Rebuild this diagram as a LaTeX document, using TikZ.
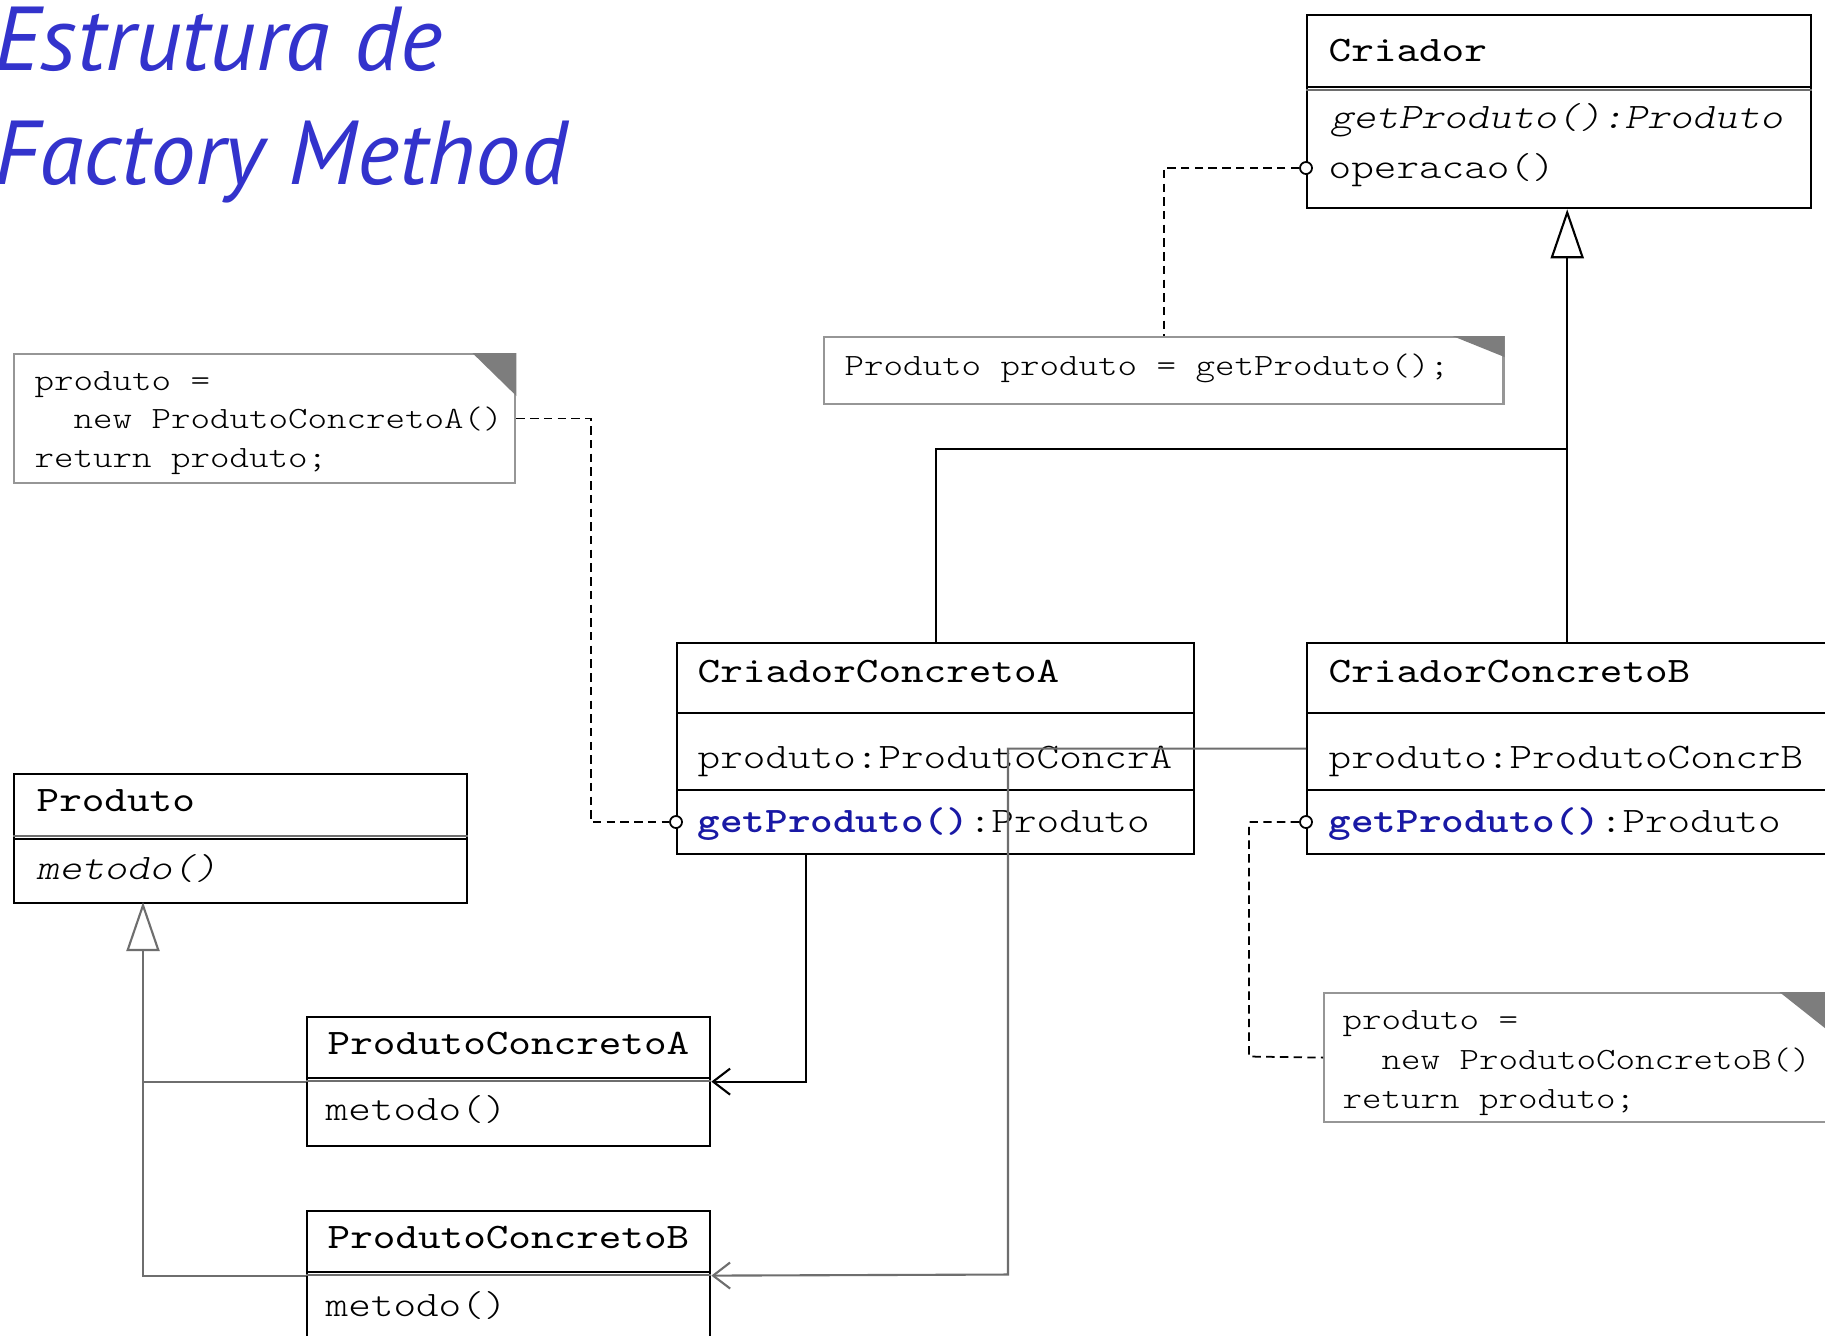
\documentclass[tikz,border=0pt]{standalone}
\usepackage{fontspec}
\usetikzlibrary{arrows.meta}

\newfontfamily\titlefont{PT Sans}
\newfontfamily\codefont{lmmonolt10}[Extension=.otf, UprightFont=*-regular,
  BoldFont=lmmono10-regular, ItalicFont=*-oblique, FakeStretch=1.2]
\newfontfamily\opfont{lmmonolt10}[Extension=.otf, UprightFont=*-bold, FakeStretch=1.2]
\newcommand\clsfont{\codefont\fontsize{10.2}{13}\selectfont}
\newcommand\notefont{\codefont\fontsize{8.8}{11}\selectfont}
\newcommand\op[1]{\textcolor{opblue}{\opfont\fontsize{10.2}{13}\selectfont #1}}

\definecolor{titleblue}{RGB}{51,51,204}
\definecolor{opblue}{RGB}{25,25,165}
\definecolor{notegray}{RGB}{150,150,150}
\definecolor{eargray}{RGB}{125,125,125}
\definecolor{linegray}{RGB}{110,110,110}

\begin{document}
\begin{tikzpicture}[x=0.01cm, y=-0.01cm,
  cls/.style={draw, line width=0.6pt, fill=white, inner sep=0pt, anchor=north west},
  note/.style={draw=notegray, line width=0.6pt, fill=white, inner sep=0pt, anchor=north west},
  txt/.style={anchor=base west, inner sep=0pt, font=\clsfont},
  ntxt/.style={anchor=base west, inner sep=0pt, font=\notefont},
  port/.style={circle, draw, fill=white, line width=0.5pt, inner sep=0pt, minimum size=0.12cm},
  sep/.style={line width=0.6pt},
  gen/.style={-{Triangle[open, length=0.49cm, width=0.33cm]}, line width=0.6pt},
  assoc/.style={-{Straight Barb[length=0.17cm, width=0.26cm]}, line width=0.6pt},
  link/.style={dash pattern=on 2.4pt off 1.5pt, line width=0.5pt}
]
  \path[use as bounding box, fill=white] (0,0) rectangle (1825,1335);

  % title
  \node[anchor=base west, inner sep=0pt, text=titleblue,
        font=\titlefont\itshape\fontsize{25.8}{32}\selectfont] (title1) at (-6,70) {Estrutura de};
  \node[anchor=base west, inner sep=0pt, text=titleblue,
        font=\titlefont\itshape\fontsize{25.8}{32}\selectfont] (title2) at (-6,184) {Factory Method};

  % Criador
  \node[cls, minimum width=5.04cm, minimum height=1.93cm] (criador) at (1306,14) {};
  \draw[sep] (criador.west |- 0,87) -- (criador.east |- 0,87);
  \draw[sep, draw=linegray] (criador.west |- 0,90) -- (criador.east |- 0,90);
  \node[txt, font=\clsfont\bfseries] (criadorName) at (1328,61) {Criador};
  \node[txt, font=\clsfont\itshape] (criadorGet) at (1330,128) {getProduto():Produto};
  \node[txt] (criadorOp) at (1328,178) {operacao()};

  % CriadorConcretoA
  \node[cls, minimum width=5.17cm, minimum height=2.11cm] (cca) at (676,642) {};
  \draw[sep] (cca.west |- 0,713) -- (cca.east |- 0,713);
  \draw[sep] (cca.west |- 0,790) -- (cca.east |- 0,790);
  \node[txt, font=\clsfont\bfseries] (ccaName) at (697,682) {CriadorConcretoA};
  \node[txt] (ccaAttr) at (697,768) {produto:ProdutoConcrA};
  \node[txt] (ccaGet) at (697,832) {\op{getProduto()}:Produto};

  % CriadorConcretoB
  \node[cls, minimum width=5.2cm, minimum height=2.11cm] (ccb) at (1306,642) {};
  \draw[sep] (ccb.west |- 0,713) -- (ccb.east |- 0,713);
  \draw[sep] (ccb.west |- 0,790) -- (ccb.east |- 0,790);
  \node[txt, font=\clsfont\bfseries] (ccbName) at (1328,682) {CriadorConcretoB};
  \node[txt] (ccbAttr) at (1328,768) {produto:ProdutoConcrB};
  \node[txt] (ccbGet) at (1328,832) {\op{getProduto()}:Produto};

  % Produto
  \node[cls, minimum width=4.53cm, minimum height=1.29cm] (produto) at (13,773) {};
  \draw[sep, draw=linegray] (produto.west |- 0,836) -- (produto.east |- 0,836);
  \draw[sep] (produto.west |- 0,839) -- (produto.east |- 0,839);
  \node[txt, font=\clsfont\bfseries] (produtoName) at (36,811) {Produto};
  \node[txt, font=\clsfont\itshape] (produtoMet) at (36,879) {metodo()};

  % ProdutoConcretoA
  \node[cls, minimum width=4.03cm, minimum height=1.29cm] (pca) at (306,1016) {};
  \draw[sep] (pca.west |- 0,1078) -- (pca.east |- 0,1078);
  \draw[sep, draw=linegray] (pca.west |- 0,1081) -- (pca.east |- 0,1081);
  \node[txt, font=\clsfont\bfseries] (pcaName) at (327,1054) {ProdutoConcretoA};
  \node[txt] (pcaMet) at (325,1120) {metodo()};

  % ProdutoConcretoB
  \node[cls, minimum width=4.03cm, minimum height=1.29cm] (pcb) at (306,1210) {};
  \draw[sep] (pcb.west |- 0,1272) -- (pcb.east |- 0,1272);
  \draw[sep, draw=linegray] (pcb.west |- 0,1275) -- (pcb.east |- 0,1275);
  \node[txt, font=\clsfont\bfseries] (pcbName) at (327,1248) {ProdutoConcretoB};
  \node[txt] (pcbMet) at (325,1316) {metodo()};

  % notes
  \node[note, minimum width=6.79cm, minimum height=0.67cm] (noteP) at (823,336) {};
  \fill[eargray] (noteP.north east) ++(-52,0) -- (noteP.north east) -- ++(0,21) -- cycle;
  \node[ntxt] (notePTxt) at (844,375) {Produto produto = getProduto();};

  \node[note, minimum width=5.01cm, minimum height=1.29cm] (noteA) at (13,353) {};
  \fill[eargray] (noteA.north east) ++(-44,0) -- (noteA.north east) -- ++(0,43) -- cycle;
  \node[ntxt] (noteA1) at (34,390) {produto =};
  \node[ntxt] (noteA2) at (34,428) {\phantom{xx}new ProdutoConcretoA()};
  \node[ntxt] (noteA3) at (34,467) {return produto;};

  \node[note, minimum width=5.02cm, minimum height=1.29cm] (noteB) at (1323,992) {};
  \fill[eargray] (noteB.north east) ++(-48,0) -- (noteB.north east) -- ++(0,38) -- cycle;
  \node[ntxt] (noteB1) at (1342,1029) {produto =};
  \node[ntxt] (noteB2) at (1342,1069) {\phantom{xx}new ProdutoConcretoB()};
  \node[ntxt] (noteB3) at (1342,1108) {return produto;};

  % inheritance
  \coordinate (junc) at (1566,449);
  \coordinate (prodTip) at (143,902);
  \draw[sep] (cca.north) |- (junc);
  \draw[gen] (ccb.north) -- (ccb.north |- criador.south);
  \draw[gen, draw=linegray] (pcb.west) -| (prodTip);
  \draw[sep, draw=linegray] (pca.west) -- (pca.west -| prodTip);

  % associations
  \coordinate (bendB) at (1008,1274.5);
  \draw[assoc] ([xshift=-1.295cm]cca.south) |- (pca.east);
  \draw[assoc, draw=linegray] (ccb.west) -| (bendB) -- (pcb.east);

  % note links
  \node[port] (criadorPort) at (1306,168) {};
  \node[port] (ccaPort) at (676,822) {};
  \node[port] (ccbPort) at (1306,822) {};
  \coordinate (bendA) at (591,822);
  \coordinate (bendN) at (1249,1056.5);
  \draw[link] (noteA.east) -| (bendA) -- (ccaPort);
  \draw[link] (criadorPort) -| (noteP.north);
  \draw[link] (ccbPort) -| (bendN) -- (noteB.west);
\end{tikzpicture}
\end{document}
